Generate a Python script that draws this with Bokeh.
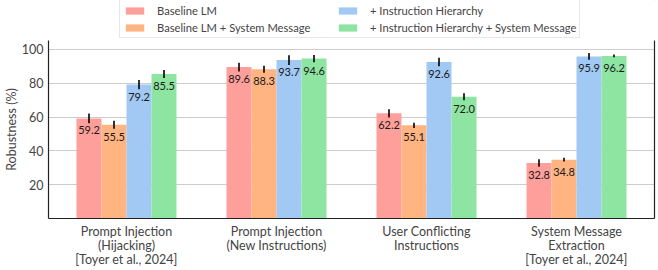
from bokeh.plotting import figure
from bokeh.layouts import column
from bokeh.models import (FactorRange, Range1d, FixedTicker, LinearAxis, Legend,
                          LegendItem, ColumnDataSource)
from bokeh.transform import dodge
from bokeh.embed import file_html
from bokeh.resources import INLINE
from bokeh.core.properties import value

categories = [
    "Prompt Injection\n(Hijacking)\n[Toyer et al., 2024]",
    "Prompt Injection\n(New Instructions)",
    "User Conflicting\nInstructions",
    "System Message\nExtraction\n[Toyer et al., 2024]",
]
series = ["Baseline LM", "Baseline LM + System Message",
          "+ Instruction Hierarchy", "+ Instruction Hierarchy + System Message"]
baseline = [59.2, 89.6, 62.2, 32.8]
baseline_err = [2.9, 2.6, 2.4, 2.2]
baseline_sys = [55.5, 88.3, 55.1, 34.8]
baseline_sys_err = [2.4, 2.1, 1.5, 1.1]
hierarchy = [79.2, 93.7, 92.6, 95.9]
hierarchy_err = [2.8, 2.9, 2.5, 2.0]
hierarchy_sys = [85.5, 94.6, 72.0, 96.2]
hierarchy_sys_err = [2.4, 2.1, 2.1, 0.8]
colors = ["#FF9F9B", "#FFB482", "#A1C9F4", "#8DE5A1"]
yticks = [20, 40, 60, 80, 100]

values = [baseline, baseline_sys, hierarchy, hierarchy_sys]
errors = [baseline_err, baseline_sys_err, hierarchy_err, hierarchy_sys_err]

FONT = "Lato"
bar_w = 1 / 6
offsets = [-1.5 * bar_w, -0.5 * bar_w, 0.5 * bar_w, 1.5 * bar_w]

W = 658
LEG_H = 40
H = 230
BOTTOM, LEFT, RIGHT = 50, 40, 4

# ---------------- legend strip ----------------
lf = figure(width=W, height=LEG_H, output_backend="svg", toolbar_location=None,
            x_range=Range1d(0, 1), y_range=Range1d(0, 1), min_border=0,
            x_axis_location=None, y_axis_location=None)
lf.grid.visible = False
lf.outline_line_color = None
# swatch renderers kept outside the visible range (legend only)
leg_renderers = [lf.vbar(x=[5], top=[5], bottom=[4], width=0.1,
                         fill_color=c, line_color=None) for c in colors]
items = [LegendItem(label=series[i], renderers=[leg_renderers[i]]) for i in range(4)]
legend = Legend(items=items, ncols=2, location=(71, 2), margin=0,
                padding=3, spacing=3, glyph_width=23, glyph_height=9,
                label_height=14, label_width=176, label_standoff=11,
                label_text_font=FONT, label_text_font_size="11.2px",
                border_line_color="#d0d0d0", border_line_width=1,
                background_fill_alpha=1)
lf.add_layout(legend)

# ---------------- main chart ----------------
p = figure(width=W, height=H, output_backend="svg", toolbar_location=None,
           x_range=FactorRange(*categories, range_padding=0.01),
           y_range=Range1d(0, 105.3))
p.min_border_left = LEFT
p.min_border_right = RIGHT
p.min_border_top = 0
p.min_border_bottom = BOTTOM
p.outline_line_color = None
p.background_fill_color = "white"

for vals, errs, col, off in zip(values, errors, colors, offsets):
    src = ColumnDataSource(dict(
        cat=categories, val=vals,
        lo=[v - e for v, e in zip(vals, errs)],
        hi=[v + e for v, e in zip(vals, errs)],
        lab=[f"{v:.1f}" for v in vals]))
    p.vbar(x=dodge("cat", off, range=p.x_range), top="val", width=bar_w,
           source=src, fill_color=col, line_color=None)
    p.segment(x0=dodge("cat", off, range=p.x_range), y0="lo",
              x1=dodge("cat", off, range=p.x_range), y1="hi",
              source=src, line_color="black", line_width=1.6)
    p.text(x=dodge("cat", off, range=p.x_range), y="val", text="lab", source=src,
           y_offset=12, text_align="center", text_baseline="middle",
           text_font=value(FONT), text_font_size="11px", text_color="#1a1a1a")

# grid
p.xgrid.grid_line_color = None
p.ygrid.ticker = FixedTicker(ticks=yticks)
p.ygrid.grid_line_color = "#cccccc"
p.ygrid.grid_line_width = 1

# y axis
p.yaxis.ticker = FixedTicker(ticks=yticks)
p.yaxis.axis_label = "Robustness (%)"
p.yaxis.axis_label_text_font = FONT
p.yaxis.axis_label_text_font_style = "normal"
p.yaxis.axis_label_text_font_size = "12.5px"
p.yaxis.axis_label_standoff = 0
p.yaxis.major_label_text_font = FONT
p.yaxis.major_label_text_font_size = "12.5px"
p.yaxis.major_label_standoff = 5
p.yaxis.major_tick_line_color = None
p.yaxis.minor_tick_line_color = None
p.yaxis.major_tick_out = 0
p.yaxis.major_tick_in = 0
p.yaxis.minor_tick_out = 0
p.yaxis.axis_line_color = "#222222"
p.yaxis.axis_line_width = 1.2

# x axis
p.xaxis.major_label_text_font = FONT
p.xaxis.major_label_text_font_size = "12.5px"
p.xaxis.major_label_text_line_height = 0.95
p.xaxis.major_label_standoff = 5
p.xaxis.axis_label_standoff = 0
p.xaxis.major_tick_line_color = None
p.xaxis.major_tick_out = 0
p.xaxis.major_tick_in = 0
p.xaxis.axis_line_color = "#222222"
p.xaxis.axis_line_width = 1.2

# right spine
right = LinearAxis(ticker=FixedTicker(ticks=[50]), major_tick_line_color=None,
                   minor_tick_line_color=None, major_label_text_color=None,
                   major_label_text_font_size="1px",
                   major_tick_out=0, major_tick_in=0, minor_tick_out=0,
                   major_label_standoff=0,
                   axis_line_color="#222222", axis_line_width=1.2)
p.add_layout(right, "right")

layout = column(lf, p, spacing=0)
open("out.html", "w").write(file_html(layout, INLINE))
